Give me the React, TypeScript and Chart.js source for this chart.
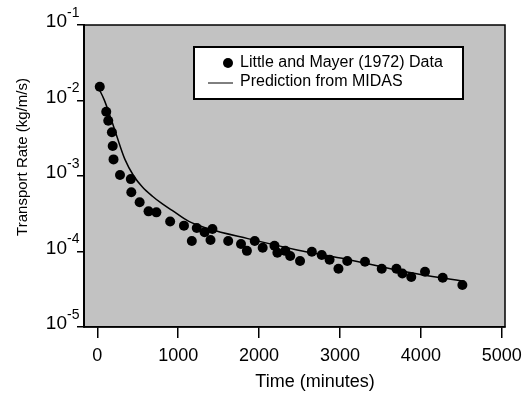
import React, { useEffect, useRef } from 'react';
import { Chart, registerables } from 'chart.js';

Chart.register(...registerables);

// Little and Mayer (1972) measured transport rate
const dataTime = [30, 110, 135, 180, 190, 200, 280, 414, 420, 523, 633, 730, 900, 1071, 1168, 1229, 1326, 1399, 1423, 1618, 1776, 1849, 1946, 2044, 2190, 2226, 2324, 2384, 2506, 2652, 2774, 2871, 2981, 3090, 3309, 3516, 3698, 3771, 3881, 4051, 4270, 4513];
const dataRate = [1.52e-2, 7.1e-3, 5.4e-3, 3.8e-3, 2.5e-3, 1.66e-3, 1.03e-3, 9.1e-4, 6.1e-4, 4.5e-4, 3.4e-4, 3.3e-4, 2.5e-4, 2.2e-4, 1.38e-4, 2.05e-4, 1.8e-4, 1.42e-4, 1.99e-4, 1.38e-4, 1.26e-4, 1.02e-4, 1.38e-4, 1.12e-4, 1.19e-4, 9.6e-5, 1.02e-4, 8.7e-5, 7.5e-5, 9.9e-5, 9.0e-5, 7.8e-5, 5.9e-5, 7.5e-5, 7.3e-5, 5.9e-5, 5.9e-5, 5.1e-5, 4.6e-5, 5.4e-5, 4.5e-5, 3.6e-5];

// MIDAS prediction
const midasTime = [10, 85, 165, 243, 341, 450, 560, 681, 800, 925, 1131, 1375, 1861, 2470, 3078, 3808, 4538];
const midasRate = [1.5e-2, 1.02e-2, 5.9e-3, 3.3e-3, 1.66e-3, 1.0e-3, 7.1e-4, 5.4e-4, 4.3e-4, 3.5e-4, 2.5e-4, 2.0e-4, 1.48e-4, 1.05e-4, 7.9e-5, 5.4e-5, 4.0e-5];

const seriesLabels = ['Little and Mayer (1972) Data', 'Prediction from MIDAS'];
const xTicks = [0, 1000, 2000, 3000, 4000, 5000];
const yTicks = [1e-5, 1e-4, 1e-3, 1e-2, 1e-1];
const yTickExponents = ['-5', '-4', '-3', '-2', '-1'];
const yTickBase = '10';
const xTitle = 'Time (minutes)';
const yTitle = 'Transport Rate (kg/m/s)';

const FONT = '"Liberation Sans", Arial, Helvetica, sans-serif';

const decorPlugin = {
  id: 'decor',
  beforeDraw(chart: any) {
    const { ctx, chartArea: a } = chart;
    ctx.save();
    ctx.fillStyle = '#c2c2c2';
    ctx.fillRect(a.left, a.top, a.right - a.left, a.bottom - a.top);
    ctx.restore();
  },
  afterDraw(chart: any) {
    const { ctx, chartArea: a } = chart;
    const ys = chart.scales.y;
    ctx.save();
    // frame
    ctx.strokeStyle = '#000';
    ctx.lineWidth = 1.5;
    ctx.strokeRect(a.left, a.top, a.right - a.left, a.bottom - a.top);

    // y tick labels with superscript exponents
    ctx.fillStyle = '#000';
    ctx.textBaseline = 'middle';
    yTicks.forEach((v, i) => {
      const py = ys.getPixelForValue(v);
      ctx.font = `19px ${FONT}`;
      ctx.textAlign = 'right';
      ctx.fillText(yTickBase, a.left - 17, py - 3);
      ctx.font = `14px ${FONT}`;
      ctx.textAlign = 'left';
      ctx.fillText(yTickExponents[i], a.left - 17, py - 12);
    });

    // legend box
    const bx = a.left + 110, by = a.top + 22, bw = 269, bh = 52;
    ctx.fillStyle = '#fff';
    ctx.fillRect(bx, by, bw, bh);
    ctx.lineWidth = 2;
    ctx.strokeRect(bx, by, bw, bh);
    ctx.fillStyle = '#000';
    ctx.beginPath();
    ctx.arc(bx + 34, by + 16, 5, 0, Math.PI * 2);
    ctx.fill();
    ctx.lineWidth = 1;
    ctx.beginPath();
    ctx.moveTo(bx + 14, by + 36);
    ctx.lineTo(bx + 39, by + 36);
    ctx.stroke();
    ctx.font = `16px ${FONT}`;
    ctx.textBaseline = 'middle';
    ctx.textAlign = 'left';
    ctx.fillText(chart.data.datasets[0].label, bx + 46, by + 16);
    ctx.fillText(chart.data.datasets[1].label, bx + 46, by + 35);

    // axis titles
    ctx.font = `18px ${FONT}`;
    ctx.textAlign = 'center';
    ctx.fillText(xTitle, 315, 382);
    ctx.translate(23, 157);
    ctx.rotate(-Math.PI / 2);
    ctx.font = `15px ${FONT}`;
    ctx.fillText(yTitle, 0, 0);
    ctx.restore();
  },
};

export default function App() {
  const ref = useRef<HTMLCanvasElement>(null);
  useEffect(() => {
    if (!ref.current) return;
    const chart = new Chart(ref.current, {
      type: 'scatter',
      data: {
        datasets: [
          {
            label: seriesLabels[0],
            data: dataTime.map((t, i) => ({ x: t, y: dataRate[i] })),
            pointRadius: 5,
            pointBackgroundColor: '#000',
            pointBorderColor: '#000',
            pointBorderWidth: 0,
            showLine: false,
          },
          {
            label: seriesLabels[1],
            data: midasTime.map((t, i) => ({ x: t, y: midasRate[i] })),
            pointRadius: 0,
            showLine: true,
            borderColor: '#000',
            borderWidth: 1.5,
            cubicInterpolationMode: 'monotone',
          },
        ],
      } as any,
      options: {
        animation: false,
        responsive: false,
        layout: { padding: { top: 25, right: 18, left: 0, bottom: 0 } },
        plugins: { legend: { display: false }, tooltip: { enabled: false } },
        scales: {
          x: {
            type: 'linear',
            min: -165,
            max: 5040,
            afterBuildTicks: (s: any) => { s.ticks = xTicks.map((v) => ({ value: v })); },
            afterFit: (s: any) => { s.height = 67; s.paddingLeft = 0; s.paddingRight = 0; },
            grid: { drawOnChartArea: false, drawTicks: true, tickLength: 11, color: '#000', lineWidth: 1.5 },
            border: { display: true, color: '#000', width: 1.5 },
            ticks: {
              color: '#000',
              font: { family: FONT, size: 18 },
              padding: 7,
              maxRotation: 0,
              autoSkip: false,
              callback: (v: any) => String(v),
            },
          },
          y: {
            type: 'logarithmic',
            min: 1e-5,
            max: 1e-1,
            afterBuildTicks: (s: any) => { s.ticks = yTicks.map((v) => ({ value: v })); },
            afterFit: (s: any) => { s.width = 84; s.paddingTop = 0; s.paddingBottom = 0; },
            grid: { drawOnChartArea: false, drawTicks: true, tickLength: 7, color: '#000', lineWidth: 1.5 },
            border: { display: true, color: '#000', width: 2 },
            ticks: { display: false },
          },
        },
      },
      plugins: [decorPlugin],
    });
    return () => chart.destroy();
  }, []);
  return (
    <div style={{ position: 'fixed', left: 0, top: 0, width: 523, height: 394, background: '#fff' }}>
      <canvas ref={ref} width={523} height={394} />
    </div>
  );
}
